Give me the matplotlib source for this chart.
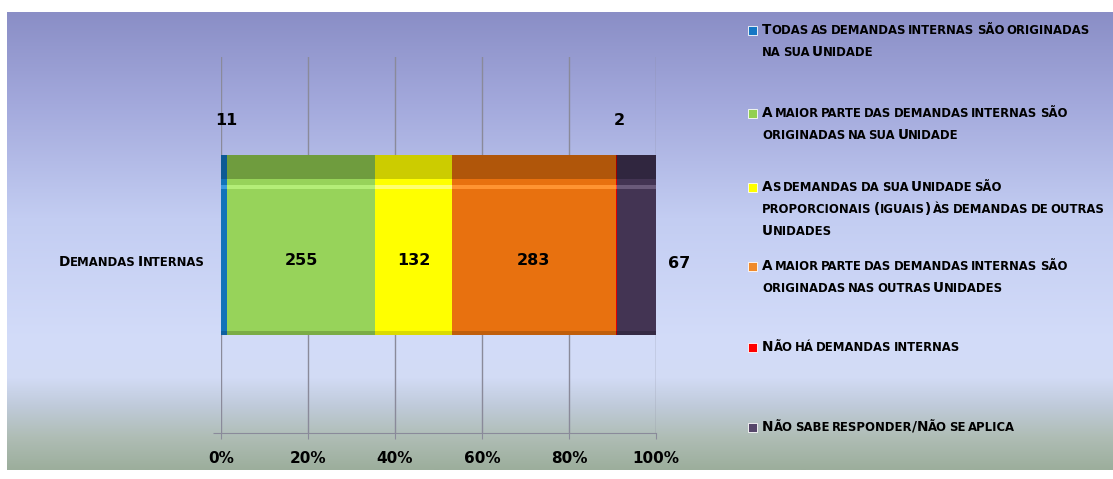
import numpy as np
import matplotlib.pyplot as plt
from matplotlib.colors import LinearSegmentedColormap
from matplotlib.patches import Rectangle
from matplotlib.offsetbox import TextArea, HPacker, AnnotationBbox

# data
category = "Demandas Internas"
series_labels = [
    "Todas as demandas internas são originadas\nna sua Unidade",
    "A maior parte das demandas internas são\noriginadas na sua Unidade",
    "As demandas da sua Unidade são\nproporcionais (iguais) às demandas de outras\nUnidades",
    "A maior parte das demandas internas são\noriginadas nas outras Unidades",
    "Não há demandas internas",
    "Não sabe responder/Não se aplica",
]
values = [11, 255, 132, 283, 2, 67]
x_ticks = [0, 20, 40, 60, 80, 100]

main_colors = ["#1273b9", "#97d35a", "#ffff00", "#e8710f", "#e00000", "#433453"]
top_colors = ["#0d5a94", "#6f9c3e", "#cccc00", "#b0560a", "#a00000", "#30263f"]
shine_colors = ["#3a9ae0", "#b4ee78", "#ffff70", "#ff9432", "#ff4040", "#6a5a7a"]
legend_colors = ["#1577c4", "#92d050", "#ffff00", "#f08a2a", "#ff0000", "#56466a"]
label_pos = ["above", "center", "center", "center", "above", "right"]

FONT = ["DejaVu Sans"]


def small_caps(text, big=9.8, small=8.4, space=1.6):
    """Fake small caps: lowercase letters drawn as smaller capitals."""
    words = []
    for word in text.split(" "):
        runs, cur, cur_small = [], "", None
        for ch in word:
            is_small = ch.islower()
            if cur and is_small != cur_small:
                runs.append((cur, cur_small))
                cur = ""
            cur += ch
            cur_small = is_small
        if cur:
            runs.append((cur, cur_small))
        parts = [TextArea(r.upper(), textprops=dict(fontsize=small if s else big,
                                                    fontweight="bold", family=FONT))
                 for r, s in runs]
        words.append(HPacker(children=parts, align="baseline", pad=0, sep=0))
    return HPacker(children=words, align="baseline", pad=0, sep=space)


total = sum(values)
shares = [v / total * 100 for v in values]
lefts = np.cumsum([0] + shares[:-1])

W, H = 1113, 479
fig = plt.figure(figsize=(W / 100, H / 100), dpi=100)
fig.patch.set_facecolor("white")

# gradient background panel
bg = fig.add_axes([7 / W, 9 / H, 1 - 7 / W, 458 / H], zorder=0)
cmap = LinearSegmentedColormap.from_list("bg", [
    (0.0, "#8a8ec6"), (0.2, "#a3a9dc"), (0.45, "#c3cdf2"), (0.72, "#d3dcf9"),
    (0.80, "#d2dbf5"), (0.86, "#c0cbdb"), (0.93, "#afbdb5"), (1.0, "#9cae9c")])
grad = np.linspace(0, 1, 256).reshape(-1, 1)
bg.imshow(grad, aspect="auto", cmap=cmap, extent=[0, 1, 0, 1], origin="upper")
bg.axis("off")

# plot area
ax = fig.add_axes([221 / W, 46 / H, 435 / W, 376 / H], zorder=1)
ax.patch.set_alpha(0)

h = 0.48
ax.barh(0, shares, left=lefts, height=h, color=main_colors, zorder=3)
ax.barh(h / 2 - 0.032, shares, left=lefts, height=0.064, color=top_colors, zorder=4)
ax.barh(h / 2 - 0.086, shares, left=lefts, height=0.012, color=shine_colors, zorder=4)
ax.barh(-h / 2 + 0.005, shares, left=lefts, height=0.01, color=top_colors, alpha=0.7, zorder=4)

for v, l, s, pos in zip(values, lefts, shares, label_pos):
    kw = dict(fontsize=11.5, fontweight="bold", family=FONT, color="black", zorder=5)
    if pos == "center":
        ax.text(l + s / 2, -0.04, str(v), ha="center", va="center", **kw)
    elif pos == "above":
        ax.text(l + s / 2 + 0.6, h / 2 + 0.09, str(v), ha="center", va="center", **kw)
    else:
        ax.text(l + s + 2.8, -0.05, str(v), ha="left", va="center", **kw)

ax.set_xlim(0, 100)
ax.set_ylim(-0.5, 0.5)
ax.set_xticks(x_ticks)
ax.set_xticklabels([f"{t}%" for t in x_ticks], fontsize=11, fontweight="bold", family=FONT)
ax.tick_params(axis="x", length=4, color="#8a8a9a", pad=9)
ax.set_yticks([-0.5])
ax.set_yticklabels([""])
ax.tick_params(axis="y", length=6, color="#8a8a9a")
ax.grid(axis="x", color="#8a8a9a", linewidth=1, zorder=1)
for side in ["top", "right", "left"]:
    ax.spines[side].set_visible(False)
ax.spines["bottom"].set_color("#8a8a9a")

# category label
bg.add_artist(AnnotationBbox(small_caps(category), (205 / W, 1 - 262 / H),
                             xycoords="figure fraction", box_alignment=(1, 0.5),
                             frameon=False, pad=0))

# legend
leg_y = [30, 113, 187, 266, 347, 427]
for lab, c, y0 in zip(series_labels, legend_colors, leg_y):
    fig.patches.append(Rectangle((748 / W, 1 - (y0 + 5) / H), 9 / W, 9 / H,
                                 transform=fig.transFigure, facecolor=c,
                                 edgecolor="white", linewidth=0.6, zorder=3))
    for i, line in enumerate(lab.split("\n")):
        bg.add_artist(AnnotationBbox(small_caps(line), (762 / W, 1 - (y0 + i * 22) / H),
                                     xycoords="figure fraction", box_alignment=(0, 0.5),
                                     frameon=False, pad=0))

fig.savefig("out.png", dpi=100)
